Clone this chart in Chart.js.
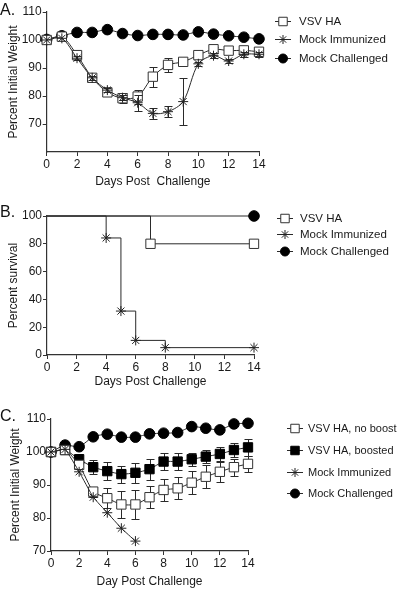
<!DOCTYPE html>
<html><head><meta charset="utf-8">
<script src="https://cdn.jsdelivr.net/npm/chart.js@4/dist/chart.umd.min.js"></script>
<style>
html,body{margin:0;padding:0;background:#fff;width:400px;height:589px;overflow:hidden;}
.panel{position:absolute;left:0;width:400px;}
.lbl{position:absolute;left:0;font:16px "Liberation Sans",Arial,Helvetica,sans-serif;line-height:18px;color:#111;}
</style></head><body>
<div class="panel" style="top:0;height:193px"><canvas id="cA"></canvas></div>
<div class="panel" style="top:193px;height:200px"><canvas id="cB"></canvas></div>
<div class="panel" style="top:388px;height:201px"><canvas id="cC"></canvas></div>
<div class="lbl" style="top:1px">A.</div>
<div class="lbl" style="top:203px">B.</div>
<div class="lbl" style="top:407px">C.</div>
<script>
// ---------- DATA ----------
const days = [0,1,2,3,4,5,6,7,8,9,10,11,12,13,14];
const xTicks = [0,2,4,6,8,10,12,14];

// Panel A
const aTicksY = [70,80,90,100,110];
const aVsvHA      = [100,101.2,94.6,86.5,81.3,79.2,79.8,86.9,91.1,92.2,94.6,96.7,96.2,96.3,95.8];
const aVsvHAErr   = [0,0.5,0.8,0.8,0.8,1.8,2.5,3.6,2.4,0.8,0.8,0.8,0.8,0.8,0.8];
const aMockImm    = [100,100.6,93.5,86.5,82.1,79.4,77.6,73.8,74.4,78,91.5,94.4,92.5,94.9,94.9];
const aMockImmErr = [0,0,0.8,0.8,0.8,1,2.8,2,2,8.5,0.8,0.8,0.8,0.8,0.8];
const aMockCh     = [100.2,101.5,102.7,102.7,103.7,102.3,101.6,102,102,101.8,102.9,102.1,101.5,101,100.4];

// Panel B (survival)
const bTicksY = [0,20,40,60,80,100];
const bVsvDays = [0,7,14];        const bVsv = [100,80,80];
const bMockDays = [0,4,5,6,8,14]; const bMock = [100,84.2,31.6,10.5,5.3,5.3];
const bChDays = [0,14];           const bCh = [100,100];

// Panel C
const cTicksY = [70,80,90,100,110];
const cNoBoost    = [100,100.6,96.1,88,86,84.1,84.1,86.3,88.5,89,90.7,92.5,94,95.4,96.4];
const cNoBoostErr = [0,0.5,1,1.5,3,4.1,4.5,3.3,3.4,3.3,3.5,3.5,3,2.6,2.5];
const cBoost      = [100,100.6,97.8,95.4,94.2,93.3,93.7,94.8,97.1,97.1,97.8,98.6,99.4,100.6,101.4];
const cBoostErr   = [0,0.5,1.5,2.1,2.7,2.6,3,3.2,2.5,2.5,2,2,2,2.2,2.5];
const cMockImmDays = [0,1,2,3,4,5,6];
const cMockImm    = [100,100.8,94,86.3,81.6,76.9,73];
const cMockCh     = [100,102.1,101.6,104.6,105.4,104.5,104.5,105.5,105.7,105.9,107.7,107.2,106.7,108.5,108.7];

// ---------- STYLE ----------
const FONT = '"Liberation Sans", Arial, Helvetica, sans-serif';
const TXT = '#1a1a1a';
const LINE = '#2a2a2a';

function pts(xs, ys){ return xs.map((x,i)=>({x:x, y:ys[i]})); }

function drawMarker(ctx, style, x, y, r, fill, stroke){
  ctx.save();
  ctx.lineWidth = 1; ctx.strokeStyle = stroke; ctx.fillStyle = fill;
  ctx.beginPath();
  if (style === 'circle'){ ctx.arc(x,y,r,0,Math.PI*2); ctx.fill(); ctx.stroke(); }
  else if (style === 'rect'){ const s = r*Math.SQRT1_2; ctx.rect(x-s,y-s,2*s,2*s); ctx.fill(); ctx.stroke(); }
  else if (style === 'star'){
    for (let k=0;k<4;k++){ const a = k*Math.PI/4; ctx.moveTo(x-Math.cos(a)*r, y-Math.sin(a)*r); ctx.lineTo(x+Math.cos(a)*r, y+Math.sin(a)*r); }
    ctx.stroke();
  }
  ctx.restore();
}

const legendPlugin = {
  id: 'sideLegend',
  afterDraw(chart, args, opts){
    if (!opts || !opts.rows) return;
    const ctx = chart.ctx;
    chart.data.datasets.forEach((d,i)=>{
      const y = opts.rows[i];
      ctx.save();
      ctx.strokeStyle = LINE; ctx.lineWidth = 1;
      ctx.beginPath(); ctx.moveTo(opts.x, y+0.5); ctx.lineTo(opts.x+opts.w, y+0.5); ctx.stroke();
      drawMarker(ctx, d.pointStyle, opts.x+opts.w/2, y+0.5, d.legR, d.pointBackgroundColor, d.pointBorderColor);
      ctx.fillStyle = TXT; ctx.font = opts.size + 'px ' + FONT; ctx.textBaseline = 'middle'; ctx.textAlign = 'left';
      ctx.fillText(d.label, opts.textX, y+1);
      ctx.restore();
    });
  }
};

const errPlugin = {
  id: 'errBars',
  beforeDatasetDraw(chart, args){
    const d = chart.data.datasets[args.index];
    if (!d.err) return;
    const ys = chart.scales.y, ctx = chart.ctx;
    ctx.save(); ctx.strokeStyle = LINE; ctx.lineWidth = 1;
    args.meta.data.forEach((p,j)=>{
      const e = d.err[j]; if (!e) return;
      const v = d.data[j].y;
      const t = Math.round(ys.getPixelForValue(v+e))+0.5, b = Math.round(ys.getPixelForValue(v-e))+0.5;
      const x = Math.round(p.x)+0.5;
      ctx.beginPath();
      ctx.moveTo(x,t); ctx.lineTo(x,b);
      ctx.moveTo(x-4,t); ctx.lineTo(x+4,t);
      ctx.moveTo(x-4,b); ctx.lineTo(x+4,b);
      ctx.stroke();
    });
    ctx.restore();
  }
};

const MK = {
  sqOpen:  {pointStyle:'rect',   pointRadius:6.6, pointBackgroundColor:'#ffffff', pointBorderColor:'#333', legR:6},
  sqFill:  {pointStyle:'rect',   pointRadius:6.6, pointBackgroundColor:'#000000', pointBorderColor:'#000', legR:6},
  star:    {pointStyle:'star',   pointRadius:5,   pointBackgroundColor:'#000000', pointBorderColor:'#222', legR:4.5},
  circle:  {pointStyle:'circle', pointRadius:5.3, pointBackgroundColor:'#000000', pointBorderColor:'#000', legR:4.5}
};

function ds(label, data, mk, extra){
  return Object.assign({
    label, data,
    borderColor: LINE, borderWidth: 1, backgroundColor: 'transparent',
    pointBorderWidth: 1, clip: false, fill: false
  }, MK[mk], extra || {});
}

function axes(o){
  const tickFont = {family: FONT, size: 12};
  return {
    x: {
      type:'linear', min:0, max:14,
      afterBuildTicks: s => { s.ticks = xTicks.map(v=>({value:v})); },
      afterFit: s => { s.height = o.xH; },
      ticks: {font: tickFont, color: TXT, padding: 1, maxRotation: 0, autoSkip: false},
      grid: {drawOnChartArea:false, drawTicks:true, tickLength:4, color:'#333', lineWidth:1},
      border: {color:'#333', width:1.2},
      title: {display:true, text:o.xTitle, font:{family:FONT, size:12}, color:TXT, padding:{top:2, bottom:o.xTitlePad}}
    },
    y: {
      type:'linear', min:o.yMin, max:o.yMax,
      afterBuildTicks: s => { s.ticks = o.yTicks.map(v=>({value:v})); },
      afterFit: s => { s.width = o.yW; },
      ticks: {font: tickFont, color: TXT, padding: 1, autoSkip:false},
      grid: {drawOnChartArea:false, drawTicks:true, tickLength:4, color:'#333', lineWidth:1},
      border: {color:'#333', width:1.2},
      title: {display:true, text:o.yTitle, font:{family:FONT, size:12}, color:TXT, padding:{top:o.yTitlePad, bottom:2}}
    }
  };
}

function make(id, datasets, o){
  return new Chart(document.getElementById(id), {
    type: 'line',
    data: {datasets},
    options: {
      animation: false, responsive: true, maintainAspectRatio: false, devicePixelRatio: 1,
      events: [],
      layout: {padding: {top:o.padTop, right:o.padRight, bottom:0, left:0}},
      plugins: {legend:{display:false}, tooltip:{enabled:false}, sideLegend: o.legend},
      scales: axes(o)
    },
    plugins: [errPlugin, legendPlugin]
  });
}

// Panel A
make('cA', [
  ds('VSV HA', pts(days, aVsvHA), 'sqOpen', {err: aVsvHAErr, tension: 0.3, order: 2}),
  ds('Mock Immunized', pts(days, aMockImm), 'star', {err: aMockImmErr, tension: 0.3, order: 1}),
  ds('Mock Challenged', pts(days, aMockCh), 'circle', {tension: 0.3, order: 3})
], {padTop:12, padRight:141, xH:41, yW:46.7, yMin:60, yMax:110, yTicks:aTicksY,
    xTitle:'Days Post  Challenge', yTitle:'Percent Initial Weight', xTitlePad:4.5, yTitlePad:6,
    legend:{x:275, w:16, textX:299, size:11.5, rows:[21,39,58]}});

// Panel B
const hideFirst = r => (c => c.dataIndex === 0 ? 0 : r);
make('cB', [
  ds('VSV HA', pts(bVsvDays, bVsv), 'sqOpen', {stepped:'before', pointRadius: hideFirst(6.6), order: 2}),
  ds('Mock Immunized', pts(bMockDays, bMock), 'star', {stepped:'before', pointRadius: hideFirst(5), order: 1}),
  ds('Mock Challenged', pts(bChDays, bCh), 'circle', {stepped:'before', pointRadius: hideFirst(5.3), order: 3})
], {padTop:23, padRight:146, xH:38, yW:47, yMin:0, yMax:100, yTicks:bTicksY,
    xTitle:'Days Post Challenge', yTitle:'Percent survival', xTitlePad:4, yTitlePad:6,
    legend:{x:277, w:16, textX:300, size:11.5, rows:[25,41,58]}});

// Panel C
make('cC', [
  ds('VSV HA, no boost', pts(days, cNoBoost), 'sqOpen', {err: cNoBoostErr, tension: 0.2, order: 2}),
  ds('VSV HA, boosted', pts(days, cBoost), 'sqFill', {err: cBoostErr, tension: 0.2, order: 3}),
  ds('Mock Immunized', pts(cMockImmDays, cMockImm), 'star', {tension: 0.1, order: 1}),
  ds('Mock Challenged', pts(days, cMockCh), 'circle', {tension: 0.2, order: 4})
], {padTop:31, padRight:152, xH:38, yW:51, yMin:70, yMax:110, yTicks:cTicksY,
    xTitle:'Day Post Challenge', yTitle:'Percent Initial Weight', xTitlePad:0, yTitlePad:8,
    legend:{x:287, w:16, textX:308, size:11, rows:[40,62,84,105]}});
</script>
</body></html>
